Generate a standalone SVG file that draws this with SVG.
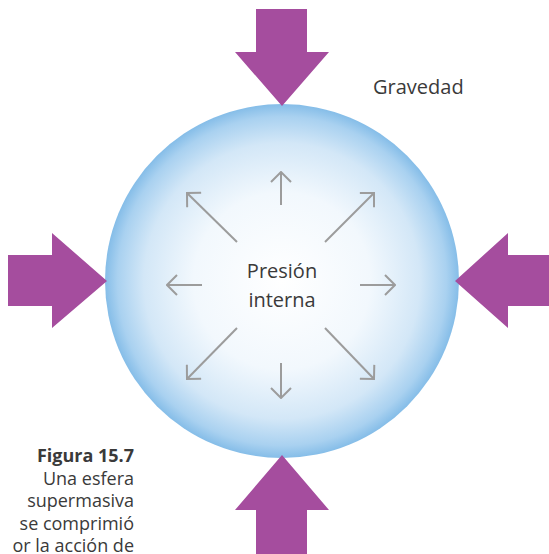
<svg xmlns="http://www.w3.org/2000/svg" width="549" height="554" viewBox="0 0 549 554">
  <style>
    .grav { fill: #a54d9e; }
    .push { stroke: #9c9c9c; stroke-width: 2; fill: none; marker-end: url(#chev); }
    .lbl { font-family: "Open Sans", "Noto Sans", sans-serif; fill: #3a3a3a; font-size: 20px; }
    .cap { font-family: "Open Sans", "Noto Sans", sans-serif; fill: #3a3a3a; font-size: 18px; text-anchor: end; }
  </style>
  <defs>
    <radialGradient id="sphere" cx="0.5" cy="0.5" r="0.5">
      <stop offset="0" stop-color="#ffffff"/>
      <stop offset="0.5" stop-color="#f2f8fd"/>
      <stop offset="0.78" stop-color="#d3e7f7"/>
      <stop offset="0.93" stop-color="#a9d1f0"/>
      <stop offset="1" stop-color="#85bde8"/>
    </radialGradient>
    <marker id="chev" viewBox="-1 -1 12 22" refX="10" refY="10" markerWidth="12" markerHeight="22" markerUnits="userSpaceOnUse" orient="auto">
      <path d="M0,0 L10,10 L0,20" fill="none" stroke="#9c9c9c" stroke-width="2"/>
    </marker>
  </defs>
  <rect width="549" height="554" fill="#ffffff"/>

  <g id="sphere-node">
    <circle cx="282" cy="281" r="177" fill="url(#sphere)"/>
    <text class="lbl" x="282" y="278" text-anchor="middle">Presión</text>
    <text class="lbl" x="282" y="307" text-anchor="middle">interna</text>
  </g>

  <g id="pressure-arrows">
    <line class="push" x1="281" y1="205" x2="281" y2="172"/>
    <line class="push" x1="281" y1="363" x2="281" y2="398"/>
    <line class="push" x1="202" y1="285" x2="167" y2="285"/>
    <line class="push" x1="360" y1="285" x2="395" y2="285"/>
    <line class="push" x1="237" y1="242" x2="187" y2="193"/>
    <line class="push" x1="325" y1="242" x2="374" y2="193"/>
    <line class="push" x1="237" y1="328" x2="187" y2="379"/>
    <line class="push" x1="325" y1="328" x2="374" y2="379"/>
  </g>

  <g id="gravity-arrows">
    <polygon id="grav-top" class="grav" points="256,9 307,9 307,52 329,52 282,106 235,52 256,52"/>
    <polygon id="grav-bottom" class="grav" points="282,455 329,510 307,510 307,554 256,554 256,510 235,510"/>
    <polygon id="grav-left" class="grav" points="8,255 52,255 52,233 107,281 52,328 52,306 8,306"/>
    <polygon id="grav-right" class="grav" points="455,281 508,233 508,255 549,255 549,306 508,306 508,328"/>
  </g>

  <g id="gravity-label">
    <text class="lbl" x="373" y="94">Gravedad</text>
  </g>

  <g id="caption">
    <text class="cap" x="134" y="462" font-weight="bold">Figura 15.7</text>
    <text class="cap" x="134" y="485">Una esfera</text>
    <text class="cap" x="134" y="507">supermasiva</text>
    <text class="cap" x="134" y="530">se comprimió</text>
    <text class="cap" x="134" y="552">or la acción de</text>
  </g>
</svg>
